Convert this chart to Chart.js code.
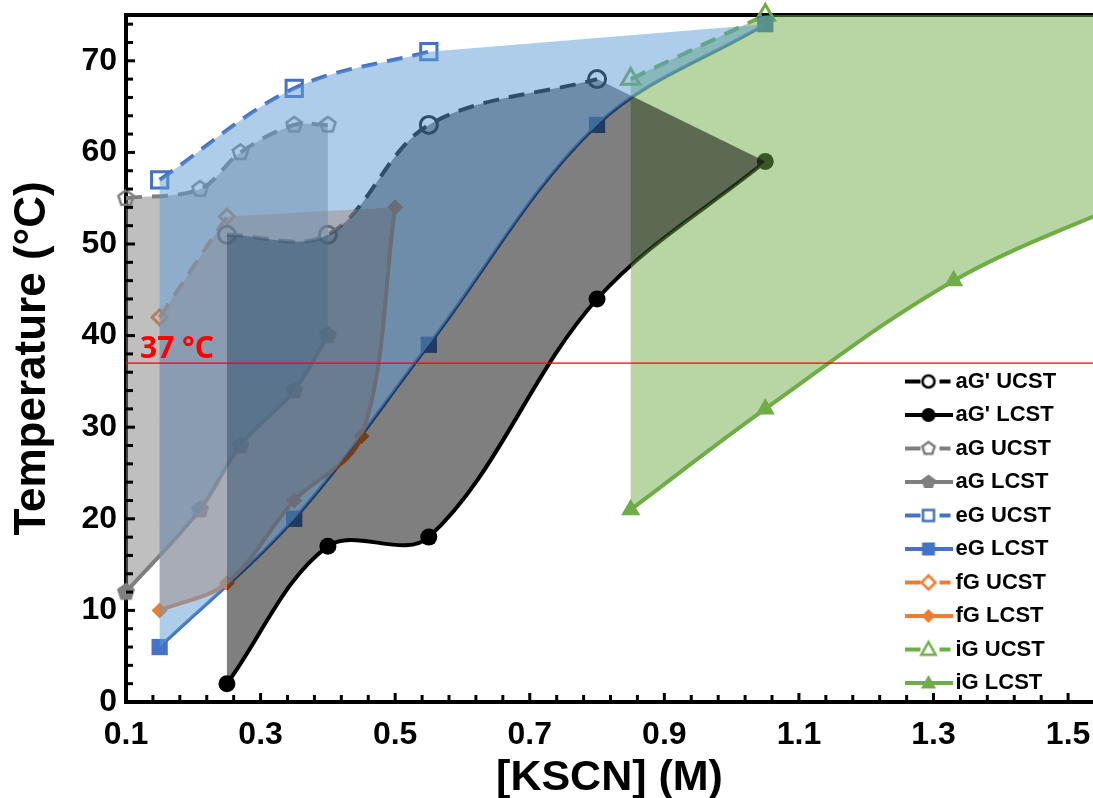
<!DOCTYPE html>
<html><head><meta charset="utf-8">
<script src="https://cdn.jsdelivr.net/npm/chart.js@4.4.1/dist/chart.umd.min.js"></script>
<style>html,body{margin:0;padding:0;background:#fff;overflow:hidden}#wrap{width:1093px;height:798px;position:relative}</style>
</head><body><div id="wrap"><canvas id="c" width="1093" height="798"></canvas></div>
<script>
// ---------------- data ----------------
const aGp_UCST_x = [0.25, 0.40, 0.55, 0.80];
const aGp_UCST_y = [51, 51, 63, 68];
const aGp_LCST_x = [0.25, 0.40, 0.55, 0.80, 1.05];
const aGp_LCST_y = [2, 17, 18, 44, 59];
const aG_UCST_x = [0.10, 0.21, 0.27, 0.35, 0.40];
const aG_UCST_y = [55, 56, 60, 63, 63];
const aG_LCST_x = [0.10, 0.21, 0.27, 0.35, 0.40];
const aG_LCST_y = [12, 21, 28, 34, 40];
const eG_UCST_x = [0.15, 0.35, 0.55];
const eG_UCST_y = [57, 67, 71];
const eG_LCST_x = [0.15, 0.35, 0.55, 0.80, 1.05];
const eG_LCST_y = [6, 20, 39, 63, 74];
const fG_UCST_x = [0.15, 0.25];
const fG_UCST_y = [42, 53];
const fG_LCST_x = [0.15, 0.25, 0.35, 0.45, 0.50];
const fG_LCST_y = [10, 13, 22, 29, 54];
const iG_UCST_x = [0.85, 1.05];
const iG_UCST_y = [68, 75];
const iG_LCST_x = [0.85, 1.05, 1.33, 1.60];
const iG_LCST_y = [21, 32, 46, 55];
const iG_regionCorner = {x: 1.60, y: 75};
const refTemp = 37;
const refLabel = '37 °C';
const xTicks = [0.1, 0.3, 0.5, 0.7, 0.9, 1.1, 1.3, 1.5];
const yTicks = [0, 10, 20, 30, 40, 50, 60, 70];
const xMin = 0.1, xMax = 1.537, yMin = 0, yMax = 75;
const xMinorStep = 0.04, yMinorStep = 2;
const legendLabels = ["aG' UCST", "aG' LCST", "aG UCST", "aG LCST", "eG UCST", "eG LCST", "fG UCST", "fG LCST", "iG UCST", "iG LCST"];

// ---------------- styling ----------------
const COL = {black: '#000000', gray: '#7f7f7f', blue: '#4472c4', orange: '#ed7d31', green: '#70ad47'};
const DASH = [16, 10];
Chart.defaults.font.family = "'Liberation Sans', Arial, Helvetica, sans-serif";
Chart.defaults.color = '#000';

const pts = (xs, ys) => xs.map((x, i) => ({x: x, y: ys[i]}));

function shapePath(c, shape, cx, cy, r) {
  c.beginPath();
  if (shape === 'pentagon') {
    for (let k = 0; k < 5; k++) {
      const a = -Math.PI / 2 + k * 2 * Math.PI / 5;
      const px = cx + r * Math.cos(a), py = cy + r * Math.sin(a);
      if (k) c.lineTo(px, py); else c.moveTo(px, py);
    }
    c.closePath();
  } else if (shape === 'circle') {
    c.arc(cx, cy, r, 0, Math.PI * 2);
  } else if (shape === 'rect') {
    c.rect(cx - r, cy - r, 2 * r, 2 * r);
  } else if (shape === 'diamond') {
    c.moveTo(cx, cy - r); c.lineTo(cx + r, cy); c.lineTo(cx, cy + r); c.lineTo(cx - r, cy); c.closePath();
  } else if (shape === 'triangle') {
    c.moveTo(cx, cy - r); c.lineTo(cx + r * 0.95, cy + r * 0.7); c.lineTo(cx - r * 0.95, cy + r * 0.7); c.closePath();
  }
}
function markerCanvas(shape, color, filled, r, lw) {
  const s = Math.ceil(2 * r + lw + 4);
  const cv = document.createElement('canvas'); cv.width = s; cv.height = s;
  const c = cv.getContext('2d');
  shapePath(c, shape, s / 2, s / 2, r);
  if (filled) { c.fillStyle = color; c.fill(); }
  else { c.strokeStyle = color; c.lineWidth = lw; c.stroke(); }
  return cv;
}
function legendIcon(shape, color, filled, dashed, r) {
  const W = 48, H = 24;
  const cv = document.createElement('canvas'); cv.width = W; cv.height = H;
  const c = cv.getContext('2d');
  c.strokeStyle = color; c.lineWidth = 4;
  c.beginPath();
  if (dashed) { c.moveTo(0, H / 2); c.lineTo(16, H / 2); c.moveTo(35, H / 2); c.lineTo(46, H / 2); }
  else { c.moveTo(0, H / 2); c.lineTo(W, H / 2); }
  c.stroke();
  shapePath(c, shape, W / 2, H / 2, r);
  if (filled) { c.fillStyle = color; c.fill(); }
  else { c.fillStyle = '#fff'; c.fill(); c.lineWidth = 2.5; c.stroke(); }
  return cv;
}
const pentOpen = markerCanvas('pentagon', COL.gray, false, 8, 2.5);
const pentFill = markerCanvas('pentagon', COL.gray, true, 9.5, 0);

const legendIcons = [
  legendIcon('circle', COL.black, false, true, 6),
  legendIcon('circle', COL.black, true, false, 7),
  legendIcon('pentagon', COL.gray, false, true, 6.5),
  legendIcon('pentagon', COL.gray, true, false, 7.5),
  legendIcon('rect', COL.blue, false, true, 5.5),
  legendIcon('rect', COL.blue, true, false, 6.5),
  legendIcon('diamond', COL.orange, false, true, 7),
  legendIcon('diamond', COL.orange, true, false, 7),
  legendIcon('triangle', COL.green, false, true, 7.5),
  legendIcon('triangle', COL.green, true, false, 8)
];

function series(label, xs, ys, color, extra) {
  return Object.assign({
    label: label, data: pts(xs, ys), borderColor: color, backgroundColor: color,
    borderWidth: 4, tension: 0.35, fill: false, clip: false,
    pointBorderColor: color, pointBackgroundColor: color, pointBorderWidth: 0
  }, extra);
}
const OPEN = 'rgba(0,0,0,0)';
const datasets = [
  {label: 'ref', data: [{x: xMin, y: refTemp}, {x: xMax, y: refTemp}], borderColor: '#ff0000', borderWidth: 1.4, pointRadius: 0, tension: 0, fill: false, order: 0},
  series("aG' UCST", aGp_UCST_x, aGp_UCST_y, COL.black, {borderDash: DASH, pointStyle: 'circle', pointRadius: 8.5, pointBorderWidth: 3, pointBackgroundColor: OPEN, order: 1}),
  series("aG' LCST", aGp_LCST_x, aGp_LCST_y, COL.black, {pointStyle: 'circle', pointRadius: 8.5, order: 2}),
  series('aG UCST', aG_UCST_x, aG_UCST_y, COL.gray, {borderDash: DASH, pointStyle: pentOpen, pointRadius: 9, order: 5}),
  series('aG LCST', aG_LCST_x, aG_LCST_y, COL.gray, {pointStyle: pentFill, pointRadius: 9, order: 6}),
  series('eG UCST', eG_UCST_x, eG_UCST_y, COL.blue, {borderDash: DASH, pointStyle: 'rect', pointRadius: 11.5, pointBorderWidth: 3, pointBackgroundColor: OPEN, order: 7}),
  series('eG LCST', eG_LCST_x, eG_LCST_y, COL.blue, {borderWidth: 3.5, pointStyle: 'rect', pointRadius: 11.5, order: 8}),
  series('fG UCST', fG_UCST_x, fG_UCST_y, COL.orange, {borderDash: DASH, pointStyle: 'rectRot', pointRadius: 7.5, pointBorderWidth: 3, pointBackgroundColor: OPEN, order: 3}),
  series('fG LCST', fG_LCST_x, fG_LCST_y, COL.orange, {pointStyle: 'rectRot', pointRadius: 8, order: 4}),
  series('iG UCST', iG_UCST_x, iG_UCST_y, COL.green, {borderDash: DASH, pointStyle: 'triangle', pointRadius: 10.5, pointBorderWidth: 3, pointBackgroundColor: OPEN, order: 9}),
  series('iG LCST', iG_LCST_x, iG_LCST_y, COL.green, {pointStyle: 'triangle', pointRadius: 11, order: 10})
];
const IDX = {aGpU: 1, aGpL: 2, aGU: 3, aGL: 4, eGU: 5, eGL: 6, fGU: 7, fGL: 8, iGU: 9, iGL: 10};

// two-phase regions, drawn in this order over the curves
const regions = [
  {color: 'rgba(112,173,71,0.5)', parts: [{ds: 'iGU'}, {pt: iG_regionCorner}, {ds: 'iGL', reverse: true}]},
  {color: 'rgba(237,125,49,0.5)', parts: [{ds: 'fGU'}, {ds: 'fGL', reverse: true}]},
  {color: 'rgba(128,128,128,0.5)', parts: [{ds: 'aGU'}, {ds: 'aGL', reverse: true}]},
  {color: 'rgba(0,0,0,0.5)', parts: [{ds: 'aGpU'}, {ds: 'aGpL', reverse: true}]},
  {color: 'rgba(91,155,213,0.5)', parts: [{ds: 'eGU'}, {ds: 'eGL', reverse: true}]}
];

const regionPlugin = {
  id: 'regions',
  beforeDatasetDraw(chart, args) {
    if (args.index !== 0) return;
    const ctx = chart.ctx, area = chart.chartArea;
    const sx = chart.scales.x, sy = chart.scales.y;
    ctx.save();
    ctx.beginPath();
    ctx.rect(area.left, area.top, area.right - area.left, area.bottom - area.top);
    ctx.clip();
    for (const r of regions) {
      ctx.beginPath();
      let first = true;
      for (const part of r.parts) {
        if (part.ds) {
          const line = chart.getDatasetMeta(IDX[part.ds]).dataset;
          line.updateControlPoints(area, 'x');
          const segs = part.reverse ? line.segments.slice().reverse() : line.segments;
          for (const seg of segs) {
            line.pathSegment(ctx, seg, {move: first, reverse: !!part.reverse});
            first = false;
          }
        } else {
          const px = sx.getPixelForValue(part.pt.x), py = sy.getPixelForValue(part.pt.y);
          if (first) ctx.moveTo(px, py); else ctx.lineTo(px, py);
          first = false;
        }
      }
      ctx.closePath();
      ctx.fillStyle = r.color;
      ctx.fill();
    }
    ctx.restore();
  }
};

const decoPlugin = {
  id: 'deco',
  afterDatasetsDraw(chart) {
    const ctx = chart.ctx, area = chart.chartArea;
    const sx = chart.scales.x, sy = chart.scales.y;
    ctx.save();
    ctx.strokeStyle = '#000'; ctx.lineWidth = 3;
    const nx = Math.floor((xMax - xMin) / xMinorStep + 1e-6);
    for (let k = 0; k <= nx; k++) {
      const v = xMin + k * xMinorStep;
      const major = xTicks.some(t => Math.abs(t - v) < 1e-6);
      const px = sx.getPixelForValue(v);
      ctx.beginPath(); ctx.moveTo(px, area.bottom); ctx.lineTo(px, area.bottom - (major ? 9 : 7)); ctx.stroke();
    }
    const ny = Math.floor((yMax - yMin) / yMinorStep + 1e-6);
    for (let k = 0; k <= ny; k++) {
      const v = yMin + k * yMinorStep;
      const major = yTicks.includes(v);
      const py = sy.getPixelForValue(v);
      ctx.beginPath(); ctx.moveTo(area.left, py); ctx.lineTo(area.left + (major ? 9 : 7), py); ctx.stroke();
    }
    ctx.fillStyle = '#ff0000';
    ctx.font = "bold 30px 'Noto Sans', 'Liberation Sans', sans-serif";
    ctx.textBaseline = 'alphabetic'; ctx.textAlign = 'left';
    ctx.fillText(refLabel, sx.getPixelForValue(xMin) + 14, sy.getPixelForValue(refTemp) - 5);
    ctx.restore();
  }
};

const legendMove = {
  id: 'legendMove',
  beforeDraw(chart) {
    const lg = chart.legend; if (!lg) return;
    const w = lg.width;
    lg.left = 901; lg.top = 359; lg.right = lg.left + w; lg.bottom = lg.top + 430;
  }
};

const noPad = s => { s.paddingLeft = 0; s.paddingRight = 0; s.paddingTop = 0; s.paddingBottom = 0; };
const HIDDEN = 'rgba(0,0,0,0)';

new Chart(document.getElementById('c'), {
  type: 'line',
  data: {datasets: datasets},
  plugins: [regionPlugin, decoPlugin, legendMove],
  options: {
    responsive: false, animation: false, devicePixelRatio: 1, events: [],
    layout: {autoPadding: false, padding: {top: 15, right: 0, bottom: 0, left: 0}},
    elements: {line: {capBezierPoints: false, borderCapStyle: 'butt'}},
    plugins: {
      tooltip: {enabled: false},
      legend: {
        display: true, position: 'chartArea', align: 'start',
        labels: {
          usePointStyle: true, pointStyleWidth: 32, padding: 11.5, color: '#000',
          font: {size: 22, weight: 'bold'},
          generateLabels: () => legendLabels.map((t, i) => ({
            text: t, pointStyle: legendIcons[i], fillStyle: OPEN, strokeStyle: OPEN,
            lineWidth: 0, hidden: false, datasetIndex: i + 1, fontColor: '#000'
          }))
        }
      }
    },
    scales: {
      x: {
        type: 'linear', position: 'bottom', min: xMin, max: xMax,
        afterBuildTicks: s => { s.ticks = xTicks.map(v => ({value: v})); },
        afterFit: s => { s.height = 96; noPad(s); },
        grid: {display: true, drawOnChartArea: false, drawTicks: true, tickLength: 14, tickColor: HIDDEN, color: HIDDEN},
        border: {display: true, color: '#000', width: 4},
        ticks: {padding: 0, font: {size: 32, weight: 'bold'}, color: '#000', maxRotation: 0, autoSkip: false,
          callback: v => Number(v).toFixed(1)},
        title: {display: true, text: '[KSCN] (M)', font: {size: 43, weight: 'bold'}, color: '#000', padding: {top: 0, bottom: -6}}
      },
      x2: {
        type: 'linear', position: 'top', min: xMin, max: xMax,
        afterFit: s => { s.height = 0; noPad(s); },
        grid: {display: false, drawTicks: false},
        border: {display: true, color: '#000', width: 4},
        ticks: {display: false}
      },
      y: {
        type: 'linear', position: 'left', min: yMin, max: yMax,
        afterBuildTicks: s => { s.ticks = yTicks.map(v => ({value: v})); },
        afterFit: s => { s.width = 126; noPad(s); },
        grid: {display: false, drawTicks: false},
        border: {display: true, color: '#000', width: 4},
        ticks: {padding: 9, font: {size: 32, weight: 'bold'}, color: '#000', autoSkip: false,
          callback: v => String(v)},
        title: {display: true, text: 'Temperature (°C)', font: {size: 44, weight: 'bold'}, color: '#000', padding: {top: 6, bottom: 0}}
      }
    }
  }
});
</script>
</body></html>
